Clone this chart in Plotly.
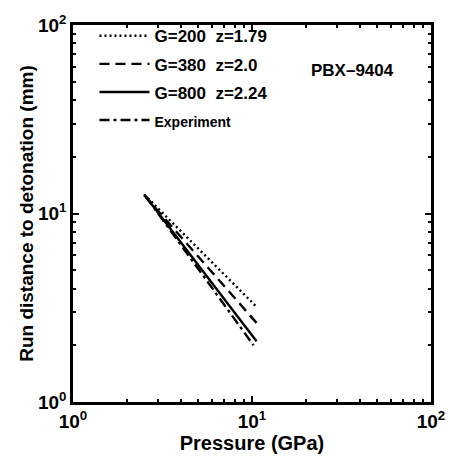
import plotly.graph_objects as go

# Data (log-log, pressure GPa vs run distance mm)
p_g200 = [2.5, 10.6]
x_g200 = [12.6, 3.2]
p_g380 = [2.5, 10.6]
x_g380 = [12.5, 2.63]
p_g800 = [2.5, 10.6]
x_g800 = [12.6, 2.1]
p_exp = [2.55, 10.2]
x_exp = [12.3, 2.0]

names = ["<b>G=200&nbsp;&nbsp;z=1.79</b>", "<b>G=380&nbsp;&nbsp;z=2.0</b>", "<b>G=800&nbsp;&nbsp;z=2.24</b>",
         "<b><span style='font-size:14px'>Experiment</span></b>"]
dashes = ["2px,3px", "10px,6px", "solid", "10px,4px,3px,4px"]

tickvals = [1, 10, 100]
ticktext = ["<b>10<sup>0</sup></b>", "<b>10<sup>1</sup></b>", "<b>10<sup>2</sup></b>"]
minorvals = [2, 3, 4, 5, 6, 7, 8, 9, 20, 30, 40, 50, 60, 70, 80, 90]

fig = go.Figure()
for i, (px, xs, nm, ds) in enumerate(zip([p_g200, p_g380, p_g800, p_exp],
                                         [x_g200, x_g380, x_g800, x_exp], names, dashes)):
    fig.add_trace(go.Scatter(x=px, y=xs, mode="lines", name=nm, legendgroup=f"g{i}",
                             line=dict(color="black", width=2.4, dash=ds)))

axis_common = dict(
    type="log", range=[0, 2], tickvals=tickvals, ticktext=ticktext,
    showgrid=False, zeroline=False,
    showline=True, linecolor="black", linewidth=2.5, mirror="ticks",
    ticks="inside", ticklen=6, tickwidth=2, tickcolor="black",
    minor=dict(ticks="inside", ticklen=3, tickcolor="black", tickwidth=2,
               tickvals=minorvals, showgrid=False),
    tickfont=dict(family="Liberation Sans", size=19, color="black"),
    ticklabeloverflow="allow",
)

fig.update_layout(
    width=457, height=468,
    margin=dict(l=73, r=15, t=22, b=66),
    plot_bgcolor="white", paper_bgcolor="white",
    font=dict(family="Liberation Sans", color="black"),
    xaxis=dict(title=dict(text="<b>Pressure (GPa)</b>", font=dict(size=20), standoff=2),
               **axis_common),
    yaxis=dict(title=dict(text="<b>Run distance to detonation (mm)</b>", font=dict(size=19), standoff=0),
               **axis_common),
    legend=dict(x=0.06, y=1.018, xanchor="left", yanchor="top",
                bgcolor="rgba(0,0,0,0)", borderwidth=0,
                font=dict(family="Liberation Sans", size=17, color="black"),
                itemwidth=50, tracegroupgap=3),
    annotations=[dict(text="<b>PBX–9404</b>", x=0.78, y=0.88, xref="paper", yref="paper",
                      xanchor="center", yanchor="middle",
                      showarrow=False, font=dict(size=17, color="black"))],
)

fig.write_html("out.html")
